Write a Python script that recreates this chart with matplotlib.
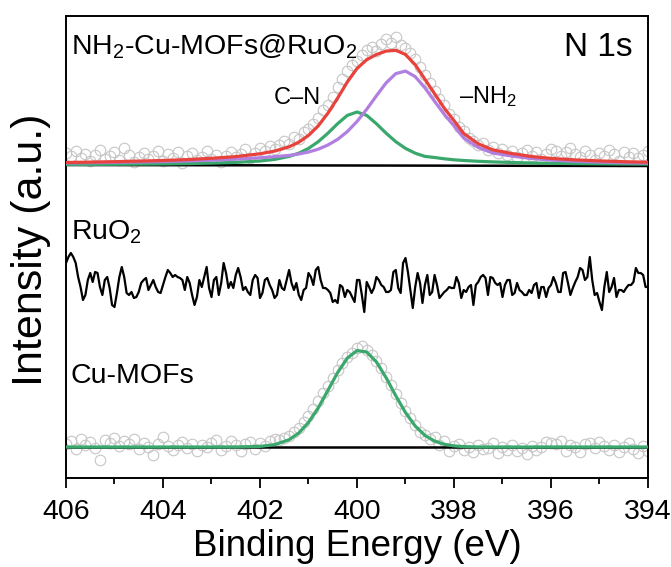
import numpy as np
import matplotlib
matplotlib.use("Agg")
import matplotlib.pyplot as plt
from matplotlib.ticker import MultipleLocator

plt.rcParams['font.family'] = ['Liberation Sans', 'DejaVu Sans']
plt.rcParams['mathtext.fontset'] = 'custom'
plt.rcParams['mathtext.rm'] = 'Liberation Sans'
plt.rcParams['mathtext.it'] = 'Liberation Sans:italic'
plt.rcParams['mathtext.bf'] = 'Liberation Sans:bold'

# ---------------- data ----------------
# measured energy grid of the survey points (eV)
x_pts = np.round(np.arange(406.0, 393.95, -0.1), 1)

# NH2-Cu-MOFs@RuO2 raw points (a.u., above its own baseline)
top_pts = [12, 9, 14, 7, 11, 4, 10, 15, 6, 9,
           13, 5, 17, 10, 3, 8, 12, 6, 9, 14,
           4, 11, 7, 13, 2, 9, 12, 5, 8, 14,
           6, 10, 3, 9, 13, 8, 11, 16, 7, 12,
           17, 14, 19, 16, 20, 24, 21, 28, 26, 33,
           36, 41, 47, 55, 60, 68, 78, 86, 94, 100,
           104, 110, 115, 118, 114, 121, 126, 122, 128, 120,
           117, 112, 106, 98, 90, 82, 74, 66, 60, 51,
           46, 38, 34, 27, 24, 20, 22, 15, 18, 12,
           16, 10, 14, 8, 12, 15, 9, 13, 6, 11,
           16, 14, 9, 13, 17, 11, 8, 14, 10, 5,
           12, 9, 15, 11, 4, 13, 8, 12, 7, 10,
           14]

# Cu-MOFs raw points (a.u., above its own baseline)
bot_pts = [3, 6, -2, 8, 2, 5, -1, -13, 7, 4,
           9, 1, 6, 3, 8, -2, 4, 0, -8, 3,
           10, 1, -3, 2, 5, -1, 3, -4, 2, 0,
           4, 7, -3, 1, 6, 2, -4, 3, 5, -2,
           4, 1, 6, 8, 7, 9, 11, 15, 19, 25,
           31, 38, 46, 54, 61, 69, 77, 84, 90, 94,
           99, 101, 97, 92, 86, 79, 70, 62, 53, 44,
           36, 29, 22, 15, 12, 8, 10, 2, 6, -4,
           1, 3, -3, 0, -5, 2, -2, -1, 4, -6,
           0, -3, 2, -4, -1, -7, 1, -3, 0, 5,
           4, 3, 6, -4, 2, 0, -5, 3, 4, -1,
           5, 1, -3, 2, -5, 0, 4, -2, -6, 1,
           -4]

# RuO2 spectrum (line), 0.05 eV steps
x_ru = np.round(np.arange(406.0, 393.99, -0.05), 2)
ru = [215, 221, 225, 221, 215, 201, 191, 178, 183, 198,
      205, 196, 206, 205, 191, 183, 198, 201, 190, 173,
      171, 185, 201, 211, 201, 185, 183, 186, 180, 181,
      186, 195, 198, 200, 188, 193, 198, 191, 186, 185,
      193, 201, 208, 205, 201, 203, 201, 200, 198, 188,
      201, 195, 183, 173, 181, 198, 191, 201, 211, 190,
      181, 198, 201, 183, 195, 215, 205, 190, 196, 190,
      203, 210, 201, 188, 191, 186, 183, 198, 203, 200,
      180, 185, 198, 200, 193, 188, 180, 183, 198, 190,
      188, 198, 208, 195, 188, 195, 183, 178, 188, 190,
      205, 201, 193, 208, 211, 198, 190, 190, 188, 185,
      176, 178, 175, 193, 191, 181, 188, 186, 181, 176,
      198, 198, 183, 166, 196, 191, 185, 190, 201, 198,
      193, 191, 186, 186, 188, 206, 208, 190, 185, 215,
      220, 206, 188, 170, 191, 205, 195, 175, 193, 203,
      183, 186, 203, 193, 180, 183, 186, 188, 191, 190,
      190, 201, 195, 180, 188, 186, 191, 193, 173, 193,
      196, 201, 203, 200, 183, 201, 200, 195, 193, 195,
      181, 193, 198, 198, 183, 185, 195, 188, 186, 183,
      183, 188, 185, 193, 195, 180, 191, 191, 181, 190,
      193, 201, 195, 186, 186, 205, 206, 195, 183, 190,
      196, 201, 210, 208, 198, 201, 221, 198, 183, 185,
      176, 168, 191, 206, 186, 191, 200, 181, 188, 188,
      186, 190, 193, 193, 196, 210, 205, 205, 203, 191,
      191]

# fitted curves (a.u., above their baselines)
x_fit = [406, 405, 404, 403.5, 403, 402.5, 402, 401.7, 401.4, 401.2,
         401.0, 400.8, 400.6, 400.4, 400.2, 400.0, 399.8, 399.6, 399.4, 399.2,
         399.0, 398.8, 398.6, 398.4, 398.2, 398.0, 397.8, 397.5, 397.2, 396.8,
         396.4, 396.0, 395.5, 395.0, 394.5, 394.0]
fit_CN = [0.5, 0.7, 1.1, 1.4, 1.9, 2.6, 4.0, 5.6, 8.6, 11.8,
          16.6, 23.3, 31.8, 41.3, 49.6, 53.0, 49.6, 41.3, 31.8, 23.3,
          16.6, 11.8, 8.6, 7.5, 6.2, 5.2, 4.5, 3.7, 3.1, 2.5,
          2.0, 1.7, 1.4, 1.2, 1.0, 0.9]
fit_NH2 = [2.0, 2.6, 3.4, 4.0, 4.8, 5.8, 7.2, 8.3, 9.6, 11.0,
           13.0, 15.8, 20.0, 25.6, 33.4, 43.5, 55.7, 69.2, 82.1, 91.4,
           93.9, 88.4, 77.2, 63.7, 50.6, 39.2, 27.0, 17.5, 12.0, 8.9,
           6.5, 4.9, 3.7, 2.9, 2.3, 1.9]
fit_env = [2.5, 3.3, 4.5, 5.4, 6.7, 8.4, 11.2, 13.9, 18.2, 22.8,
           29.6, 39.1, 51.8, 66.9, 83.0, 96.5, 105.3, 110.5, 113.9, 114.7,
           110.5, 100.2, 85.8, 71.2, 56.8, 44.4, 31.5, 21.2, 15.1, 11.4,
           8.5, 6.6, 5.1, 4.1, 3.3, 2.8]
fit_cumof = [0, 0, 0, 0, 0, 0.04, 0.6, 2.3, 7.3, 14.0,
             24.6, 39.1, 56.6, 74.4, 88.9, 96.4, 95.0, 85.1, 69.3, 51.2,
             34.4, 21.0, 11.6, 5.9, 2.7, 1.1, 0.4, 0.03, 0, 0,
             0, 0, 0, 0, 0, 0]

labels = {'top': r'NH$_2$-Cu-MOFs@RuO$_2$', 'mid': r'RuO$_2$', 'bot': 'Cu-MOFs'}

# stacking offsets (layout)
off_top = 313
off_bot = 31

RED = '#e8423c'
PURPLE = '#b07fe0'
GREEN = '#3aa86c'
GREY = '#c6c6c6'

W, H = 671, 567
fig = plt.figure(figsize=(W / 100, H / 100), dpi=100)
L, R, T, B = 66, 648, 16, 478
ax = fig.add_axes([L / W, 1 - B / H, (R - L) / W, (B - T) / H])

xf = np.array(x_fit)

# top spectrum
ax.plot(x_pts, np.array(top_pts) + off_top, 'o', ms=7.6, mfc='none',
        mec=GREY, mew=0.8, zorder=1)
ax.plot([406, 394], [off_top, off_top - 1], color='black', lw=1.8, zorder=2)
ax.plot(xf, np.array(fit_CN) + off_top, color=GREEN, lw=2.3, zorder=3)
ax.plot(xf, np.array(fit_NH2) + off_top, color=PURPLE, lw=2.3, zorder=4)
ax.plot(xf, np.array(fit_env) + off_top, color=RED, lw=2.3, zorder=5)

# middle spectrum
ax.plot(x_ru, ru, color='black', lw=1.6, zorder=3)

# bottom spectrum
ax.plot(x_pts, np.array(bot_pts) + off_bot, 'o', ms=7.6, mfc='none',
        mec=GREY, mew=0.8, zorder=1)
ax.plot([406, 394], [off_bot, off_bot], color='black', lw=1.8, zorder=2)
ax.plot(xf, np.array(fit_cumof) + off_bot, color=GREEN, lw=2.3, zorder=3)

ax.set_xlim(406, 394)
ax.set_ylim(0, B - T)
ax.xaxis.set_major_locator(MultipleLocator(2))
ax.xaxis.set_minor_locator(MultipleLocator(1))
ax.set_yticks([])
ax.tick_params(axis='x', which='major', direction='out', length=7, width=1.3,
               labelsize=20.5, pad=8)
ax.tick_params(axis='x', which='minor', direction='out', length=4, width=1.3)
for s in ax.spines.values():
    s.set_linewidth(1.4)

def fx(px):
    return px / W

def fy(py):
    return 1 - py / H

fig.text(fx(71), fy(47), labels['top'], fontsize=20.5, ha='left', va='center')
fig.text(fx(633), fy(47), 'N 1s', fontsize=24, ha='right', va='center')
fig.text(fx(297), fy(98), 'C\u2013N', fontsize=17, ha='center', va='center')
fig.text(fx(459), fy(97), '\u2013NH$_2$', fontsize=17, ha='left', va='center')
fig.text(fx(71), fy(232), labels['mid'], fontsize=20.5, ha='left', va='center')
fig.text(fx(71), fy(376), labels['bot'], fontsize=20.5, ha='left', va='center')

fig.text(fx((L + R) / 2), fy(546), 'Binding Energy (eV)', fontsize=26.5,
         ha='center', va='center')
fig.text(fx(31), fy(250), 'Intensity (a.u.)', fontsize=31,
         ha='center', va='center', rotation=90)

fig.savefig('out.png', dpi=100)
